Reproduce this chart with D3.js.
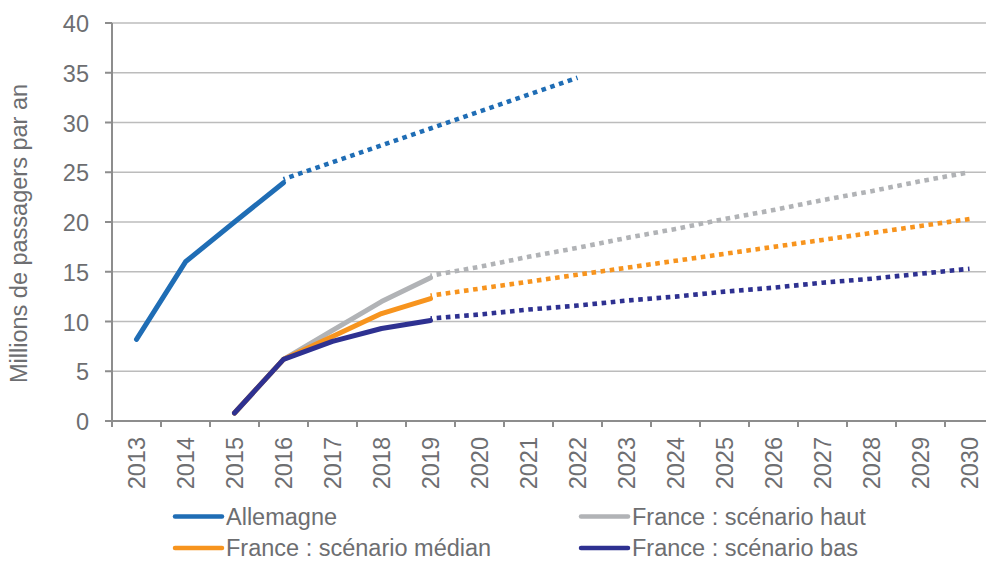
<!DOCTYPE html>
<html lang="fr">
<head>
<meta charset="utf-8">
<script src="https://cdn.jsdelivr.net/npm/d3@7"></script>
<style>
  html, body { margin: 0; padding: 0; background: #fff; }
  svg { display: block; font-family: "Liberation Sans", Arial, Helvetica, sans-serif; }
</style>
</head>
<body>
<svg id="chart" width="986" height="561"></svg>
<script>
// Years on the category axis (also the tick labels)
const years = ["2013","2014","2015","2016","2017","2018","2019","2020","2021",
               "2022","2023","2024","2025","2026","2027","2028","2029","2030"];
const yTicks = [0, 5, 10, 15, 20, 25, 30, 35, 40];

// Germany: observed, then projection (millions of passengers per year)
const allemagneYears = ["2013","2014","2015","2016"];
const allemagne      = [8.2, 16.0, 20.0, 23.95];
const allemagneProjYears = ["2016","2017","2018","2019","2020","2021","2022"];
const allemagneProj      = [24.3, 26.0, 27.7, 29.4, 31.1, 32.8, 34.5];

// France: observed / estimated 2015-2019, per scenario
const franceYears = ["2015","2016","2017","2018","2019"];
const franceHaut   = [0.8, 6.2, 9.1, 12.0, 14.4];
const franceMedian = [0.8, 6.2, 8.5, 10.8, 12.3];
const franceBas    = [0.8, 6.2, 8.0, 9.3, 10.1];

// France: projections 2019-2030, per scenario
const franceProjYears = ["2019","2020","2021","2022","2023","2024",
                         "2025","2026","2027","2028","2029","2030"];
const franceHautProj   = [14.6, 15.5, 16.5, 17.4, 18.4, 19.3, 20.3, 21.2, 22.2, 23.1, 24.1, 25.0];
const franceMedianProj = [12.6, 13.3, 14.0, 14.7, 15.4, 16.1, 16.8, 17.5, 18.2, 18.9, 19.6, 20.3];
const franceBasProj    = [10.3, 10.7, 11.2, 11.6, 12.1, 12.5, 13.0, 13.4, 13.9, 14.3, 14.8, 15.3];

const legendLabels = ["Allemagne", "France : scénario haut", "France : scénario médian", "France : scénario bas"];

const colors = {
  allemagne: "#1f6db5",
  haut: "#b1b3b6",
  median: "#f7941e",
  bas: "#2e3191"
};
const textColor = "#6d6e71";
const gridColor = "#bcbcbc";
const axisColor = "#8d8d8d";
const fontSize = 23.5;

const svg = d3.select("#chart");

const plot = { left: 112, top: 23, bottom: 421, right: 986 };
const x = d3.scaleBand().domain(years).range([plot.left, plot.left + 49 * years.length]).padding(0);
const cx = d => x(d) + x.bandwidth() / 2;
const y = d3.scaleLinear().domain([0, 40]).range([plot.bottom, plot.top]);

// Horizontal gridlines
svg.append("g")
  .selectAll("line")
  .data(yTicks.filter(t => t > 0))
  .join("line")
  .attr("x1", plot.left).attr("x2", plot.right)
  .attr("y1", d => y(d)).attr("y2", d => y(d))
  .attr("stroke", gridColor).attr("stroke-width", 1.5);

// Y axis line, ticks, labels
const yAxis = svg.append("g");
yAxis.append("line")
  .attr("x1", plot.left).attr("x2", plot.left)
  .attr("y1", y(40)).attr("y2", y(0))
  .attr("stroke", axisColor).attr("stroke-width", 2);
yAxis.selectAll("line.tick")
  .data(yTicks)
  .join("line").attr("class", "tick")
  .attr("x1", plot.left - 7).attr("x2", plot.left)
  .attr("y1", d => y(d)).attr("y2", d => y(d))
  .attr("stroke", axisColor).attr("stroke-width", 2);
yAxis.selectAll("text")
  .data(yTicks)
  .join("text")
  .attr("x", 89).attr("y", d => y(d) + 9)
  .attr("text-anchor", "end")
  .attr("font-size", fontSize).attr("fill", textColor)
  .text(d => d);

// Y axis title
svg.append("text")
  .attr("transform", `translate(26.5, ${(384 + 83) / 2}) rotate(-90)`)
  .attr("text-anchor", "middle")
  .attr("font-size", fontSize).attr("fill", textColor)
  .text("Millions de passagers par an");

// X axis line, boundary ticks, rotated labels
const xAxis = svg.append("g");
xAxis.append("line")
  .attr("x1", plot.left - 7).attr("x2", plot.right)
  .attr("y1", y(0)).attr("y2", y(0))
  .attr("stroke", axisColor).attr("stroke-width", 2);
xAxis.selectAll("line.tick")
  .data(years)
  .join("line").attr("class", "tick")
  .attr("x1", d => x(d)).attr("x2", d => x(d))
  .attr("y1", y(0)).attr("y2", y(0) + 6)
  .attr("stroke", axisColor).attr("stroke-width", 2);
xAxis.selectAll("text")
  .data(years)
  .join("text")
  .attr("transform", d => `translate(${cx(d) + 8.5}, ${y(0) + 16}) rotate(-90)`)
  .attr("text-anchor", "end")
  .attr("font-size", fontSize).attr("fill", textColor)
  .text(d => d);

// Series
const line = d3.line().x(d => cx(d[0])).y(d => y(d[1]));
const zip = (ks, vs) => ks.map((k, i) => [k, vs[i]]);

function solid(keys, vals, color) {
  svg.append("path")
    .attr("d", line(zip(keys, vals)))
    .attr("fill", "none").attr("stroke", color)
    .attr("stroke-width", 5)
    .attr("stroke-linecap", "round").attr("stroke-linejoin", "round");
}
function dotted(keys, vals, color) {
  svg.append("path")
    .attr("d", line(zip(keys, vals)))
    .attr("fill", "none").attr("stroke", color)
    .attr("stroke-width", 4.6)
    .attr("stroke-dasharray", "4.6 4.6")
    .attr("stroke-dashoffset", 3);
}

dotted(allemagneProjYears, allemagneProj, colors.allemagne);
solid(allemagneYears, allemagne, colors.allemagne);

dotted(franceProjYears, franceHautProj, colors.haut);
dotted(franceProjYears, franceMedianProj, colors.median);
dotted(franceProjYears, franceBasProj, colors.bas);

solid(franceYears, franceHaut, colors.haut);
solid(franceYears, franceMedian, colors.median);
solid(franceYears, franceBas, colors.bas);

// Legend (two columns, two rows)
const legendItems = [
  { label: legendLabels[0], color: colors.allemagne, x: 175, y: 516.5 },
  { label: legendLabels[1], color: colors.haut,      x: 581, y: 516.5 },
  { label: legendLabels[2], color: colors.median,    x: 175, y: 548 },
  { label: legendLabels[3], color: colors.bas,       x: 581, y: 548 }
];
const lg = svg.append("g").selectAll("g")
  .data(legendItems)
  .join("g")
  .attr("transform", d => `translate(${d.x}, ${d.y})`);
lg.append("line")
  .attr("x1", 0).attr("x2", 47).attr("y1", 0).attr("y2", 0)
  .attr("stroke", d => d.color).attr("stroke-width", 4.5)
  .attr("stroke-linecap", "round");
lg.append("text")
  .attr("x", 51).attr("y", 8)
  .attr("font-size", fontSize).attr("fill", textColor)
  .text(d => d.label);
</script>
</body>
</html>
